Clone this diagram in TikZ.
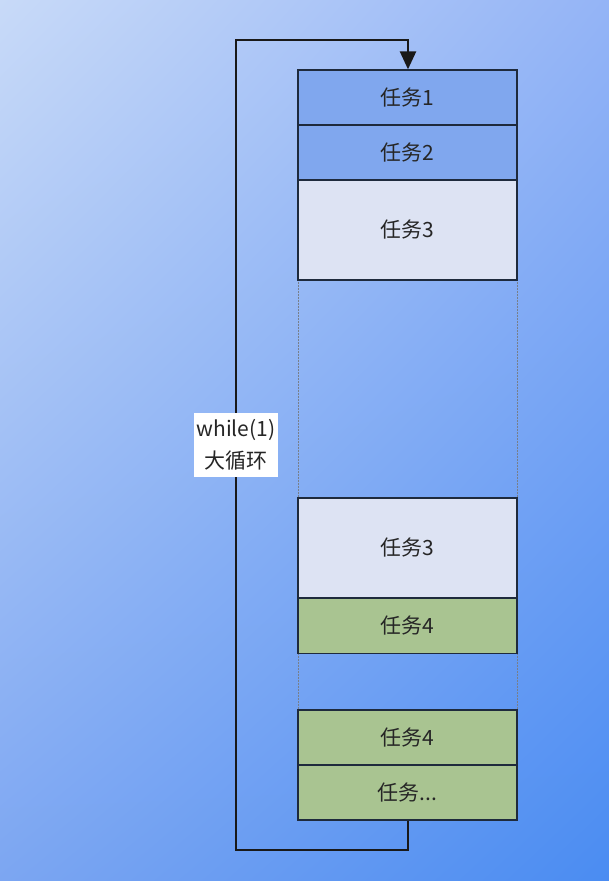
\documentclass[tikz,border=0pt]{standalone}
\usepackage{fontspec}
\setmainfont{Noto Sans CJK SC}
\usetikzlibrary{arrows.meta,shadings}
\definecolor{tlc}{HTML}{C8DAF8}
\definecolor{trc}{HTML}{94B4F6}
\definecolor{blc}{HTML}{7CA6F2}
\definecolor{brc}{HTML}{4A8CF2}
\definecolor{bluefill}{HTML}{80A7EE}
\definecolor{greyfill}{HTML}{DDE3F3}
\definecolor{greenfill}{HTML}{A9C491}
\definecolor{edge}{HTML}{1E2A3C}
\tikzset{
  task/.style={draw=edge, line width=1.3pt, minimum width=219pt, inner sep=0pt, font=\fontsize{21}{24}\selectfont, text=black!85},
  bluetask/.style={task, fill=bluefill, minimum height=55pt},
  greytask/.style={task, fill=greyfill, minimum height=100pt},
  greentask/.style={task, fill=greenfill, minimum height=55pt},
  guide/.style={draw=edge!60, densely dotted, line width=0.5pt},
  loop/.style={draw=black!90, line width=2.4pt},
}
\begin{document}
\begin{tikzpicture}[x=1pt,y=-1pt]
\useasboundingbox (0,0) rectangle (609,881);
\shade[upper left=tlc, upper right=trc, lower left=blc, lower right=brc] (0,0) rectangle (609,881);
% guides
\coordinate (gl1) at (298,280); \coordinate (gl2) at (298,498);
\coordinate (gr1) at (517,280); \coordinate (gr2) at (517,498);
\coordinate (gl3) at (298,654); \coordinate (gl4) at (298,710);
\coordinate (gr3) at (517,654); \coordinate (gr4) at (517,710);
\draw[guide] (gl1) -- (gl2); \draw[guide] (gr1) -- (gr2);
\draw[guide] (gl3) -- (gl4); \draw[guide] (gr3) -- (gr4);
% tasks
\node[bluetask] (t1) at (407.5,97.5) {任务1};
\node[bluetask] (t2) at (407.5,152.5) {任务2};
\node[greytask] (t3) at (407.5,230) {任务3};
\node[greytask] (t3b) at (407.5,548) {任务3};
\node[greentask] (t4) at (407.5,626) {任务4};
\node[greentask] (t4b) at (407.5,737.5) {任务4};
\node[greentask] (tx) at (407.5,792.5) {任务...};
% loop
\coordinate (lb) at (408,850);
\coordinate (lbl) at (236,850);
\coordinate (ltl) at (236,40);
\coordinate (lt) at (408,40);
\draw[loop, -{Triangle[length=18pt,width=16pt]}] (tx.south -| lb) -- (lb) -- (lbl) -- (ltl) -- (lt) -- (t1.north -| lt);
\node[fill=white, inner xsep=3pt, inner ysep=6pt, align=center, font=\fontsize{21}{32}\selectfont, text=black!85] (lab) at (236,445) {while(1)\\大循环};
\end{tikzpicture}
\end{document}
